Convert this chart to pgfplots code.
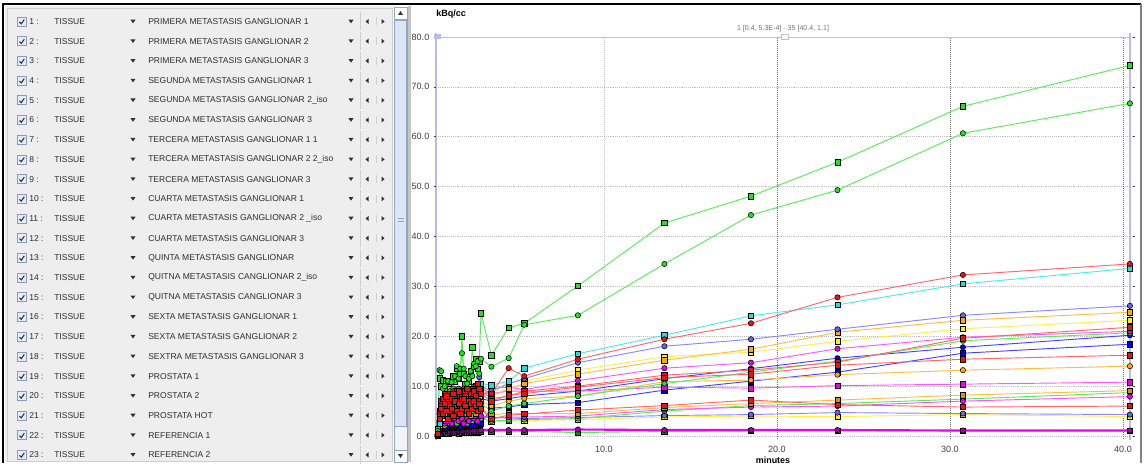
\documentclass[border=0pt]{standalone}
\usepackage{pgfplots}
\pgfplotsset{compat=1.18}
\usepackage{fontspec}
\setmainfont{Liberation Sans}
\definecolor{panel}{HTML}{EEEEEE}
\definecolor{lsttxt}{HTML}{2E2E2E}
\definecolor{chkfill}{HTML}{E4ECF7}
\definecolor{chkdraw}{HTML}{8A9CBC}
\definecolor{sepc}{HTML}{CFCFCF}
\definecolor{tric}{HTML}{303030}
\definecolor{sbfill}{HTML}{DCE6F4}
\definecolor{sbdraw}{HTML}{8EA6C8}
\definecolor{sbtrack}{HTML}{F2F4F8}
\definecolor{divc}{HTML}{C4C4C4}
\definecolor{lav}{HTML}{B8BCE8}
\definecolor{ticklab}{HTML}{404040}
\definecolor{grnL}{HTML}{55EE55}\definecolor{grnF}{HTML}{22E022}
\definecolor{redL}{HTML}{FF6666}\definecolor{redF}{HTML}{EE1111}
\definecolor{cynL}{HTML}{44EEEE}\definecolor{cynF}{HTML}{22DDDD}
\definecolor{slaL}{HTML}{8888FF}\definecolor{slaF}{HTML}{6666DD}
\definecolor{orgL}{HTML}{FFBB44}\definecolor{orgF}{HTML}{FFAA00}
\definecolor{yelL}{HTML}{FFEE44}\definecolor{yelF}{HTML}{FFEE00}
\definecolor{magL}{HTML}{FF55FF}\definecolor{magF}{HTML}{EE00EE}
\definecolor{bluL}{HTML}{4444FF}\definecolor{bluF}{HTML}{0000EE}
\definecolor{dorF}{HTML}{CC9900}
\definecolor{dgrF}{HTML}{118811}
\definecolor{dmgF}{HTML}{AA00AA}
\pgfplotsset{
  sq/.style 2 args={draw=#1, line width=0.7pt, mark=square*, mark size=2pt, mark options={solid, fill=#2, draw=black, line width=0.4pt}},
  ci/.style 2 args={draw=#1, line width=0.7pt, mark=*, mark size=2pt, mark options={solid, fill=#2, draw=black, line width=0.4pt}},
}
\begin{document}
\begin{tikzpicture}[x=0.75pt,y=0.75pt]
\path (0,0) rectangle (1144,465);
\begin{scope}[yshift=348.75pt,y=-0.75pt]
  \fill[white] (0,0) rectangle (1144,465);
  \fill[panel] (5,6) rectangle (393,462);
  \draw[sepc] (7,8) rectangle (392,461);
  % scrollbar
  \filldraw[fill=sbtrack, draw=sbdraw] (394,7) rectangle (407,462);
  \filldraw[fill=white, draw=sbdraw] (394,7) rectangle (407,19);
  \fill[tric] (398,15) -- (403,15) -- (400.5,11) -- cycle;
  \filldraw[fill=sbfill, draw=sbdraw] (394.5,20) rectangle (406.5,426);
  \draw[sbdraw] (397.5,218.5) -- (403.5,218.5) (397.5,221.5) -- (403.5,221.5);
  \filldraw[fill=white, draw=sbdraw] (394,450) rectangle (407,462);
  \fill[tric] (398,454) -- (403,454) -- (400.5,458) -- cycle;
  \fill[divc] (408,6) rectangle (411,462);
  \tikzset{lst/.style={inner sep=0pt, text=lsttxt, font=\fontsize{6.4}{7}\selectfont}}
  \foreach \i/\n in {1/PRIMERA METASTASIS GANGLIONAR 1, 2/PRIMERA METASTASIS GANGLIONAR 2, 3/PRIMERA METASTASIS GANGLIONAR 3, 4/SEGUNDA METASTASIS GANGLIONAR 1, 5/SEGUNDA METASTASIS GANGLIONAR 2\_iso, 6/SEGUNDA METASTASIS GANGLIONAR 3, 7/TERCERA METASTASIS GANGLIONAR 1 1, 8/TERCERA METASTASIS GANGLIONAR 2 2\_iso, 9/TERCERA METASTASIS GANGLIONAR 3, 10/CUARTA METASTASIS GANGLIONAR 1, 11/CUARTA METASTASIS GANGLIONAR 2 \_iso, 12/CUARTA METASTASIS GANGLIONAR 3, 13/QUINTA METASTASIS GANGLIONAR, 14/QUITNA METASTASIS CANGLIONAR 2\_iso, 15/QUITNA METASTASIS CANGLIONAR 3, 16/SEXTA METASTASIS GANGLIONAR 1, 17/SEXTA METASTASIS GANGLIONAR 2, 18/SEXTRA METASTASIS GANGLIONAR 3, 19/PROSTATA 1, 20/PROSTATA 2, 21/PROSTATA HOT, 22/REFERENCIA 1, 23/REFERENCIA 2}{
    \pgfmathsetmacro{\yy}{21.5+(\i-1)*19.7}
    \filldraw[fill=chkfill, draw=chkdraw, line width=0.5pt] (17,\yy-4.5) rectangle (26,\yy+4.5);
    \draw[tric, line width=0.8pt] (19.5,\yy+0.5) -- (21.3,\yy+2.3) -- (24.3,\yy-2);
    \node[lst, anchor=west] at (29,\yy) {\i{} :};
    \node[lst, anchor=west] at (54,\yy) {TISSUE};
    \fill[tric] (130.5,\yy-1.8) -- (135.5,\yy-1.8) -- (133,\yy+1.8) -- cycle;
    \node[lst, anchor=west] at (148,\yy) {\n};
    \fill[tric] (348.5,\yy-1.8) -- (353.5,\yy-1.8) -- (351,\yy+1.8) -- cycle;
    \draw[sepc] (360,\yy-9) -- (360,\yy+9);
    \fill[tric] (368.5,\yy-2.5) -- (368.5,\yy+2.5) -- (365.5,\yy) -- cycle;
    \draw[sepc] (376,\yy-4) -- (376,\yy+4);
    \fill[tric] (381.5,\yy-2.5) -- (381.5,\yy+2.5) -- (384.5,\yy) -- cycle;
  }
  % outer frame
  \draw[black, line width=1.5pt] (3,463) -- (3,4) -- (1141,4);
  \draw[gray, line width=1pt] (1141,4) -- (1141,463);
  % plot frame pieces under the data
  \draw[black!22, line width=0.6pt] (436,37) -- (1130,37);
  \draw[lav, line width=1.5pt] (436,33) -- (436,440);
  \draw[lav, line width=0.8pt] (1130,33) -- (1130,440);
\end{scope}
\begin{axis}[
  at={(327pt,19.5pt)}, anchor=south west, scale only axis,
  width=522.75pt, height=301.5pt,
  xmin=0.3, xmax=40.58, ymin=-0.6, ymax=80,
  clip=false,
  axis line style={draw=none},
  xtick={10,20,30,40}, ytick={0,10,...,80},
  xtick style={draw=none},
  ytick style={draw=ticklab, line width=0.4pt},
  tick align=outside, major tick length=1.5pt,
  ymajorgrids, major grid style={densely dotted, draw=black!25, line width=0.5pt},
  /pgf/number format/assume math mode=true,
  xticklabel={\pgfmathprintnumber[fixed,fixed zerofill,precision=1]{\tick}},
  yticklabel={\pgfmathprintnumber[fixed,fixed zerofill,precision=1]{\tick}},
  ticklabel style={font=\fontsize{6.8}{8}\selectfont, text=ticklab},
]
\draw[densely dotted, black!25, line width=0.5pt] (axis cs:10,-0.6) -- (axis cs:10,80);
\draw[densely dotted, black!55, line width=0.5pt] (axis cs:20,-0.6) -- (axis cs:20,80);
\draw[densely dotted, black!55, line width=0.5pt] (axis cs:30,-0.6) -- (axis cs:30,80);
\draw[densely dotted, black!55, line width=0.5pt] (axis cs:40,-0.6) -- (axis cs:40,80);
% REFERENCIA 2
\addplot[sq={grnL}{dgrF}] coordinates {(0.4,0.05)(0.5,0.4)(0.6,0.6)(0.7,0.5)(0.8,0.7)(0.9,0.6)(1.0,0.5)(1.1,0.7)(1.2,0.6)(1.3,0.8)(1.4,0.6)(1.5,0.7)(1.6,0.5)(1.7,0.8)(1.8,0.7)(1.9,0.6)(2.0,0.8)(2.1,0.7)(2.2,0.6)(2.3,0.8)(2.4,0.7)(2.5,0.9)(2.6,0.8)(2.7,0.7)(2.8,0.9)(2.9,0.8)(3.5,0.9)(4.5,0.8)(5.4,0.9)(8.5,0.7)(13.5,0.9)(18.5,1.0)(23.5,1.0)(30.75,1.0)(40.4,1.0)};
% REFERENCIA 1
\addplot[ci={magF}{dmgF}, line width=1.6pt] coordinates {(0.4,0.1)(0.5,0.8)(0.6,1.0)(0.7,1.1)(0.8,1.0)(0.9,1.2)(1.0,1.1)(1.1,1.0)(1.2,1.2)(1.3,1.1)(1.4,1.0)(1.5,1.2)(1.6,1.1)(1.7,1.2)(1.8,1.0)(1.9,1.1)(2.0,1.2)(2.1,1.1)(2.2,1.0)(2.3,1.2)(2.4,1.1)(2.5,1.2)(2.6,1.1)(2.7,1.2)(2.8,1.1)(2.9,1.2)(3.5,1.2)(4.5,1.2)(5.4,1.2)(8.5,1.3)(13.5,1.2)(18.5,1.2)(23.5,1.2)(30.75,1.1)(40.4,1.1)};
% yellow sq B
\addplot[sq={yelL}{yelF}] coordinates {(0.4,0.1)(0.5,1.0)(0.6,2.0)(0.7,2.5)(0.8,1.5)(0.9,3.0)(1.0,2.0)(1.1,2.5)(1.2,3.5)(1.3,2.0)(1.4,3.0)(1.5,2.5)(1.6,3.5)(1.7,2.0)(1.8,3.0)(1.9,2.5)(2.0,3.5)(2.1,3.0)(2.2,2.0)(2.3,3.0)(2.4,3.5)(2.5,2.5)(2.6,3.0)(2.7,3.5)(2.8,2.5)(2.9,3.0)(3.5,2.8)(4.5,3.0)(5.4,3.1)(8.5,3.3)(13.5,3.8)(18.5,4.0)(23.5,3.9)(30.75,4.3)(40.4,3.9)};
% slate circ B
\addplot[ci={slaL}{slaF}] coordinates {(0.4,0.2)(0.5,1.5)(0.6,2.5)(0.7,3.5)(0.8,3.0)(0.9,2.0)(1.0,3.5)(1.1,4.0)(1.2,3.0)(1.3,2.5)(1.4,3.5)(1.5,4.5)(1.6,3.0)(1.7,2.5)(1.8,3.5)(1.9,4.0)(2.0,3.0)(2.1,3.5)(2.2,2.5)(2.3,4.0)(2.4,3.0)(2.5,3.5)(2.6,4.5)(2.7,3.0)(2.8,3.5)(2.9,4.0)(3.5,3.8)(4.5,3.6)(5.4,3.5)(8.5,3.7)(13.5,4.1)(18.5,4.3)(23.5,4.7)(30.75,4.5)(40.4,4.3)};
% blue sq
\addplot[sq={bluL}{bluF}] coordinates {(0.4,0.2)(0.5,1.2)(0.6,1.5)(0.7,1.8)(0.8,1.6)(0.9,1.9)(1.0,1.7)(1.1,2.0)(1.2,1.8)(1.3,1.6)(1.4,2.1)(1.5,1.9)(1.6,1.7)(1.7,2.0)(1.8,1.8)(1.9,2.2)(2.0,1.9)(2.1,2.0)(2.2,1.8)(2.3,2.1)(2.4,2.0)(2.5,2.3)(2.6,2.1)(2.7,2.0)(2.8,2.2)(2.9,2.4)(3.5,5.6)(4.5,5.8)(5.4,6.3)(8.5,6.7)(13.5,9.2)(18.5,11.0)(23.5,12.8)(30.75,16.6)(40.4,18.4)};
% blue circ
\addplot[ci={bluL}{bluF}] coordinates {(0.4,0.2)(0.5,1.5)(0.6,3.0)(0.7,2.5)(0.8,4.0)(0.9,3.5)(1.0,5.0)(1.1,4.0)(1.2,5.5)(1.3,3.5)(1.4,6.0)(1.5,4.5)(1.6,5.0)(1.7,6.5)(1.8,4.5)(1.9,5.5)(2.0,7.0)(2.1,6.0)(2.2,5.0)(2.3,6.5)(2.4,7.5)(2.5,6.0)(2.6,7.0)(2.7,8.0)(2.8,6.5)(2.9,7.5)(3.5,7.0)(4.5,7.5)(5.4,8.0)(8.5,9.0)(13.5,11.5)(18.5,13.5)(23.5,15.6)(30.75,17.8)(40.4,20.2)};
% green circ C
\addplot[ci={grnL}{grnF}] coordinates {(0.4,0.2)(0.5,1.5)(0.6,2.5)(0.7,3.5)(0.8,2.0)(0.9,3.0)(1.0,4.0)(1.1,2.5)(1.2,3.5)(1.3,4.5)(1.4,3.0)(1.5,2.5)(1.6,4.0)(1.7,3.0)(1.8,3.5)(1.9,4.5)(2.0,3.0)(2.1,2.5)(2.2,4.0)(2.3,3.5)(2.4,3.0)(2.5,4.5)(2.6,3.5)(2.7,3.0)(2.8,4.0)(2.9,3.5)(3.5,3.0)(4.5,3.2)(5.4,3.3)(8.5,3.5)(13.5,5.0)(18.5,6.1)(23.5,6.5)(30.75,7.4)(40.4,8.7)};
% magenta circ C
\addplot[ci={magL}{magF}] coordinates {(0.4,0.3)(0.5,2.0)(0.6,3.0)(0.7,4.0)(0.8,2.5)(0.9,3.5)(1.0,4.5)(1.1,3.0)(1.2,2.5)(1.3,4.0)(1.4,3.5)(1.5,5.0)(1.6,3.0)(1.7,4.0)(1.8,3.5)(1.9,2.5)(2.0,4.5)(2.1,3.5)(2.2,3.0)(2.3,4.0)(2.4,5.0)(2.5,3.5)(2.6,4.0)(2.7,3.0)(2.8,4.5)(2.9,4.0)(3.5,3.5)(4.5,3.8)(5.4,3.8)(8.5,4.0)(13.5,5.3)(18.5,5.8)(23.5,6.0)(30.75,7.0)(40.4,7.9)};
% dark orange sq
\addplot[sq={orgL}{dorF}] coordinates {(0.4,0.3)(0.5,2.5)(0.6,4.0)(0.7,3.0)(0.8,5.0)(0.9,4.5)(1.0,3.5)(1.1,5.5)(1.2,4.0)(1.3,6.0)(1.4,5.0)(1.5,4.0)(1.6,5.5)(1.7,6.5)(1.8,4.5)(1.9,5.0)(2.0,6.0)(2.1,4.5)(2.2,5.5)(2.3,4.0)(2.4,6.5)(2.5,5.0)(2.6,4.5)(2.7,6.0)(2.8,5.0)(2.9,5.5)(3.5,4.2)(4.5,4.6)(5.4,4.5)(8.5,4.5)(13.5,5.7)(18.5,6.5)(23.5,7.2)(30.75,8.2)(40.4,9.1)};
% magenta sq B
\addplot[sq={magL}{magF}] coordinates {(0.4,0.2)(0.5,2.0)(0.6,3.5)(0.7,5.0)(0.8,4.0)(0.9,3.0)(1.0,5.5)(1.1,4.5)(1.2,6.0)(1.3,5.0)(1.4,4.0)(1.5,6.5)(1.6,5.5)(1.7,4.5)(1.8,6.0)(1.9,7.0)(2.0,5.0)(2.1,6.0)(2.2,7.5)(2.3,6.5)(2.4,5.5)(2.5,7.0)(2.6,6.5)(2.7,8.0)(2.8,7.0)(2.9,8.5)(3.5,8.5)(4.5,9.0)(5.4,9.0)(8.5,9.0)(13.5,9.8)(18.5,9.6)(23.5,10.1)(30.75,10.4)(40.4,10.8)};
% orange circ
\addplot[ci={orgL}{orgF}] coordinates {(0.4,0.3)(0.5,3.0)(0.6,5.0)(0.7,4.0)(0.8,6.0)(0.9,7.0)(1.0,5.5)(1.1,4.5)(1.2,6.5)(1.3,7.5)(1.4,5.0)(1.5,6.0)(1.6,8.0)(1.7,5.5)(1.8,7.0)(1.9,6.5)(2.0,4.5)(2.1,6.5)(2.2,8.0)(2.3,5.5)(2.4,7.0)(2.5,6.0)(2.6,7.5)(2.7,6.5)(2.8,8.5)(2.9,7.0)(3.5,6.0)(4.5,7.0)(5.4,7.5)(8.5,8.0)(13.5,10.9)(18.5,11.2)(23.5,12.3)(30.75,13.2)(40.4,14.0)};
% green circ small
\addplot[ci={grnL}{grnF}] coordinates {(0.4,0.3)(0.5,2.0)(0.6,3.0)(0.7,4.5)(0.8,3.5)(0.9,5.0)(1.0,4.0)(1.1,5.5)(1.2,4.5)(1.3,6.0)(1.4,5.0)(1.5,4.0)(1.6,6.5)(1.7,5.5)(1.8,4.5)(1.9,6.0)(2.0,5.0)(2.1,7.0)(2.2,5.5)(2.3,6.5)(2.4,5.0)(2.5,7.0)(2.6,6.0)(2.7,5.5)(2.8,7.5)(2.9,6.5)(3.5,5.0)(4.5,6.0)(5.4,6.5)(8.5,8.0)(13.5,10.5)(18.5,12.8)(23.5,15.0)(30.75,19.1)(40.4,20.7)};
% magenta circ
\addplot[ci={magL}{magF}] coordinates {(0.4,0.2)(0.5,2.5)(0.6,4.5)(0.7,3.5)(0.8,5.5)(0.9,4.0)(1.0,6.0)(1.1,5.0)(1.2,7.0)(1.3,4.5)(1.4,6.5)(1.5,5.5)(1.6,7.0)(1.7,8.5)(1.8,6.0)(1.9,7.5)(2.0,5.5)(2.1,7.0)(2.2,6.5)(2.3,8.0)(2.4,7.5)(2.5,6.5)(2.6,8.5)(2.7,7.0)(2.8,9.0)(2.9,8.0)(3.5,9.5)(4.5,9.8)(5.4,9.3)(8.5,11.1)(13.5,13.6)(18.5,14.7)(23.5,17.5)(30.75,19.8)(40.4,21.0)};
% yellow sq
\addplot[sq={yelL}{yelF}] coordinates {(0.4,0.2)(0.5,2.0)(0.6,4.0)(0.7,5.0)(0.8,3.5)(0.9,6.0)(1.0,5.0)(1.1,7.0)(1.2,6.0)(1.3,5.0)(1.4,7.5)(1.5,6.5)(1.6,8.0)(1.7,6.0)(1.8,7.0)(1.9,8.5)(2.0,6.0)(2.1,7.5)(2.2,9.0)(2.3,7.0)(2.4,8.5)(2.5,7.5)(2.6,9.5)(2.7,8.0)(2.8,9.0)(2.9,10.5)(3.5,8.5)(4.5,10.8)(5.4,11.0)(8.5,13.2)(13.5,15.9)(18.5,16.8)(23.5,19.0)(30.75,21.5)(40.4,23.2)};
% orange sq
\addplot[sq={orgL}{orgF}] coordinates {(0.4,0.3)(0.5,3.5)(0.6,5.5)(0.7,4.5)(0.8,6.5)(0.9,5.0)(1.0,7.5)(1.1,6.0)(1.2,5.5)(1.3,7.0)(1.4,8.0)(1.5,6.0)(1.6,7.5)(1.7,5.5)(1.8,8.5)(1.9,7.0)(2.0,6.5)(2.1,8.0)(2.2,7.5)(2.3,9.0)(2.4,6.5)(2.5,8.5)(2.6,7.5)(2.7,9.5)(2.8,8.0)(2.9,10.0)(3.5,8.0)(4.5,9.5)(5.4,10.5)(8.5,12.4)(13.5,15.2)(18.5,17.4)(23.5,20.8)(30.75,23.2)(40.4,24.8)};
% slate circ
\addplot[ci={slaL}{slaF}] coordinates {(0.4,0.4)(0.5,3.0)(0.6,5.0)(0.7,6.5)(0.8,4.0)(0.9,5.5)(1.0,7.0)(1.1,6.0)(1.2,4.5)(1.3,8.0)(1.4,6.5)(1.5,5.0)(1.6,9.5)(1.7,7.0)(1.8,6.0)(1.9,8.5)(2.0,7.5)(2.1,6.5)(2.2,9.0)(2.3,8.0)(2.4,7.0)(2.5,10.0)(2.6,8.5)(2.7,9.5)(2.8,11.8)(2.9,10.0)(3.5,9.0)(4.5,10.5)(5.4,11.5)(8.5,14.7)(13.5,18.0)(18.5,19.4)(23.5,21.4)(30.75,24.2)(40.4,26.1)};
% cyan sq
\addplot[sq={cynL}{cynF}] coordinates {(0.4,0.3)(0.5,2.5)(0.6,4.0)(0.7,5.5)(0.8,4.5)(0.9,6.0)(1.0,5.0)(1.1,6.5)(1.2,7.0)(1.3,5.5)(1.4,8.0)(1.5,6.5)(1.6,7.5)(1.7,9.0)(1.8,7.0)(1.9,8.0)(2.0,6.5)(2.1,9.5)(2.2,8.0)(2.3,7.5)(2.4,9.0)(2.5,8.5)(2.6,10.0)(2.7,9.0)(2.8,9.5)(2.9,10.5)(3.5,10.2)(4.5,11.0)(5.4,13.6)(8.5,16.5)(13.5,20.2)(18.5,24.1)(23.5,26.3)(30.75,30.5)(40.4,33.6)};
% green sq big
\addplot[sq={grnL}{grnF}] coordinates {(0.4,1.5)(0.5,11.6)(0.6,10.0)(0.7,11.2)(0.8,9.5)(0.9,11.0)(1.0,10.5)(1.1,11.0)(1.2,8.8)(1.3,12.0)(1.4,10.9)(1.5,13.5)(1.6,11.5)(1.7,12.5)(1.8,20.0)(1.9,12.5)(2.0,10.5)(2.1,9.0)(2.2,11.0)(2.3,13.0)(2.4,17.8)(2.5,14.0)(2.6,15.5)(2.7,13.5)(2.8,15.0)(2.9,24.6)(3.5,16.2)(4.5,21.7)(5.4,22.6)(8.5,30.1)(13.5,42.7)(18.5,48.1)(23.5,54.9)(30.75,66.1)(40.4,74.3)};
% green circ big
\addplot[ci={grnL}{grnF}] coordinates {(0.4,1.0)(0.5,13.2)(0.6,13.0)(0.7,9.5)(0.8,10.0)(0.9,8.0)(1.0,11.0)(1.1,9.0)(1.2,10.8)(1.3,9.5)(1.4,12.0)(1.5,14.0)(1.6,11.5)(1.7,13.5)(1.8,16.6)(1.9,13.5)(2.0,12.0)(2.1,10.5)(2.2,11.5)(2.3,13.0)(2.4,12.0)(2.5,14.5)(2.6,14.0)(2.7,15.0)(2.8,12.5)(2.9,15.5)(3.5,13.9)(4.5,15.6)(5.4,22.3)(8.5,24.2)(13.5,34.5)(18.5,44.3)(23.5,49.3)(30.75,60.7)(40.4,66.7)};
% red circ
\addplot[ci={redL}{redF}] coordinates {(0.4,0.5)(0.5,4.5)(0.6,6.5)(0.7,5.0)(0.8,7.5)(0.9,6.0)(1.0,8.5)(1.1,5.5)(1.2,7.0)(1.3,9.0)(1.4,6.5)(1.5,7.8)(1.6,5.0)(1.7,8.0)(1.8,6.0)(1.9,9.5)(2.0,7.0)(2.1,5.5)(2.2,8.5)(2.3,6.5)(2.4,9.0)(2.5,7.5)(2.6,10.0)(2.7,8.5)(2.8,9.0)(2.9,9.5)(3.5,8.5)(4.5,13.6)(5.4,12.0)(8.5,15.4)(13.5,19.4)(18.5,22.6)(23.5,27.8)(30.75,32.3)(40.4,34.5)};
% red sq A
\addplot[sq={redL}{redF}] coordinates {(0.4,0.5)(0.5,5.0)(0.6,7.0)(0.7,6.0)(0.8,8.5)(0.9,5.5)(1.0,7.0)(1.1,8.0)(1.2,6.5)(1.3,5.0)(1.4,7.5)(1.5,9.0)(1.6,6.0)(1.7,7.0)(1.8,8.5)(1.9,6.5)(2.0,9.0)(2.1,7.5)(2.2,6.0)(2.3,8.0)(2.4,9.5)(2.5,7.0)(2.6,8.0)(2.7,10.5)(2.8,8.5)(2.9,9.0)(3.5,7.5)(4.5,8.0)(5.4,9.0)(8.5,10.0)(13.5,12.2)(18.5,13.2)(23.5,14.8)(30.75,19.6)(40.4,21.8)};
% red sq B
\addplot[sq={redL}{redF}] coordinates {(0.4,0.4)(0.5,4.0)(0.6,6.0)(0.7,7.5)(0.8,5.5)(0.9,8.0)(1.0,6.5)(1.1,5.0)(1.2,7.5)(1.3,8.5)(1.4,6.0)(1.5,7.0)(1.6,9.0)(1.7,6.5)(1.8,7.5)(1.9,5.5)(2.0,8.0)(2.1,9.5)(2.2,7.0)(2.3,8.5)(2.4,6.5)(2.5,9.0)(2.6,8.0)(2.7,7.0)(2.8,9.5)(2.9,8.5)(3.5,7.0)(4.5,8.2)(5.4,8.5)(8.5,9.8)(13.5,11.7)(18.5,12.4)(23.5,14.2)(30.75,15.4)(40.4,16.2)};
% red sq C
\addplot[sq={redL}{redF}] coordinates {(0.4,0.4)(0.5,3.5)(0.6,5.5)(0.7,4.5)(0.8,6.5)(0.9,5.0)(1.0,3.5)(1.1,6.0)(1.2,5.5)(1.3,4.0)(1.4,7.0)(1.5,5.0)(1.6,6.5)(1.7,4.5)(1.8,5.5)(1.9,7.5)(2.0,6.0)(2.1,5.0)(2.2,4.5)(2.3,6.5)(2.4,5.5)(2.5,7.0)(2.6,6.0)(2.7,5.0)(2.8,6.5)(2.9,5.5)(3.5,3.4)(4.5,4.2)(5.4,4.4)(8.5,5.2)(13.5,6.1)(18.5,7.2)(23.5,6.3)(30.75,5.8)(40.4,6.0)};
\end{axis}
\begin{scope}[yshift=348.75pt,y=-0.75pt]
  \fill[lav] (434,34.5) rectangle (441,39.5);
  \filldraw[fill=white, draw=lav, line width=0.6pt] (781,34.5) rectangle (788,39.5);
  \node[anchor=west, inner sep=0pt, font=\bfseries\fontsize{6.8}{8}\selectfont] at (436,14) {kBq/cc};
  \node[inner sep=0pt, font=\bfseries\fontsize{6.7}{8}\selectfont] at (773,460) {minutes};
  \node[inner sep=0pt, text=black!55, font=\fontsize{5.3}{6}\selectfont] at (783,29) {1 [0.4, 5.3E-4] - 35 [40.4, 1.1]};
\end{scope}
\end{tikzpicture}
\end{document}
